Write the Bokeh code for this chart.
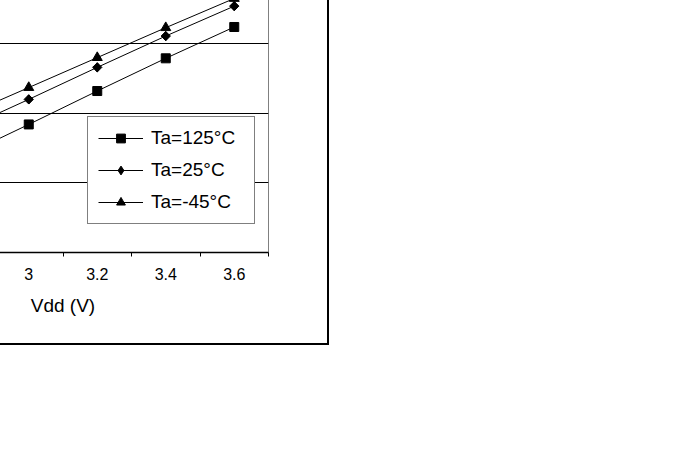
from bokeh.plotting import figure
from bokeh.models import FixedTicker, Range1d, Legend, LegendItem
from bokeh.embed import file_html
from bokeh.resources import INLINE
import math

# ---- data ----
vdd = [2.6, 2.8, 3.0, 3.2, 3.4, 3.6]
ta_125 = [0.89, 1.37, 1.84, 2.32, 2.79, 3.24]
ta_25 = [1.29, 1.75, 2.20, 2.66, 3.11, 3.54]
ta_m45 = [1.51, 1.94, 2.37, 2.80, 3.23, 3.65]
x_ticks = [3.0, 3.2, 3.4, 3.6]
x_tick_labels = ["3", "3.2", "3.4", "3.6"]
x_minor = [2.5, 2.7, 2.9, 3.1, 3.3, 3.5, 3.7]
y_ticks = [0, 1, 2, 3, 4, 5]
series_labels = ["Ta=125°C", "Ta=25°C", "Ta=-45°C"]
x_title = "Vdd (V)"

FONT = "Liberation Sans"

p = figure(width=572, height=451, output_backend="svg", toolbar_location=None,
           x_range=Range1d(2.5, 3.7), y_range=Range1d(0, 5),
           min_border_left=100, min_border_right=61,
           min_border_top=10, min_border_bottom=93)

p.background_fill_color = "white"
p.border_fill_color = "white"
p.outline_line_color = "#808080"
p.outline_line_width = 1

# x axis
xa = p.xaxis[0]
xa.ticker = FixedTicker(ticks=x_ticks, minor_ticks=x_minor)
xa.major_label_overrides = {v: s for v, s in zip(x_ticks, x_tick_labels)}
xa.major_tick_in = 0
xa.major_tick_out = 0
xa.minor_tick_in = 0
xa.minor_tick_out = 4
xa.minor_tick_line_color = "black"
xa.axis_line_color = "black"
xa.axis_line_width = 1.5
xa.major_label_text_font = FONT
xa.major_label_text_font_size = "16px"
xa.major_label_text_color = "black"
xa.major_label_standoff = 11
xa.axis_label = x_title
xa.axis_label_text_font = FONT
xa.axis_label_text_font_size = "19px"
xa.axis_label_text_font_style = "normal"
xa.axis_label_text_color = "black"
xa.axis_label_standoff = 12

# y axis lies outside the cropped view of the reference
p.yaxis.visible = False

p.xgrid.visible = False
p.ygrid.ticker = FixedTicker(ticks=y_ticks)
p.ygrid.grid_line_color = "black"
p.ygrid.grid_line_width = 1

legend_items = []

# Ta=125°C : squares
lr1 = p.line(vdd, ta_125, line_color="black", line_width=1)
sr1 = p.scatter(vdd, ta_125, marker="square", size=9,
                fill_color="black", line_color="black")
legend_items.append(LegendItem(label=series_labels[0], renderers=[lr1, sr1]))

# Ta=25°C : diamonds
lr2 = p.line(vdd, ta_25, line_color="black", line_width=1)
key2 = p.scatter(vdd, ta_25, marker="diamond", size=9,
                 fill_color="black", line_color="black")
p.scatter(vdd, ta_25, marker="square", size=6.6, angle=math.pi / 4,
          fill_color="black", line_color="black")
legend_items.append(LegendItem(label=series_labels[1], renderers=[lr2, key2]))

# Ta=-45°C : triangles
lr3 = p.line(vdd, ta_m45, line_color="black", line_width=1)
sr3 = p.scatter(vdd, ta_m45, marker="triangle", size=10,
                fill_color="black", line_color="black")
legend_items.append(LegendItem(label=series_labels[2], renderers=[lr3, sr3]))

legend = Legend(
    items=legend_items,
    location=(230, 28),
    orientation="vertical",
    padding=10, spacing=10, margin=0,
    label_height=22, glyph_height=22, glyph_width=45,
    label_standoff=8, label_width=93,
    label_text_font=FONT, label_text_font_size="19px", label_text_color="black",
    border_line_color="black", border_line_width=1,
    background_fill_color="white", background_fill_alpha=1,
)
p.add_layout(legend, "center")

p.styles = {
    "margin-left": "-243px",
    "margin-top": "-106px",
    "border-right": "2px solid #000",
    "border-bottom": "2px solid #000",
}

open("out.html", "w").write(file_html(p, INLINE))
